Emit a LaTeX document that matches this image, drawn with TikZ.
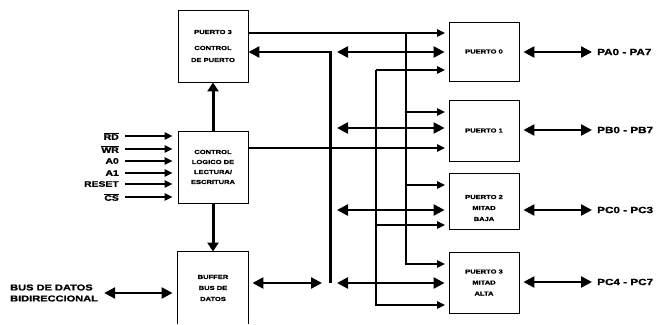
\documentclass[tikz,border=0pt]{standalone}
\usepackage{fontspec}
\setmainfont{Liberation Sans}[FakeStretch=1.3, BoldFeatures={FakeBold=1.2}]
\usetikzlibrary{arrows.meta}
\begin{document}
\begin{tikzpicture}[x=1pt,y=-1pt,
 box/.style={draw, line width=0.9pt, minimum width=70pt, align=center, inner sep=0pt, font=\bfseries\fontsize{5.8}{11}\selectfont},
 sig/.style={line width=1.2pt, -{Triangle[length=8pt,width=7.5pt]}, shorten >=3.5pt},
 wire/.style={line width=1.2pt},
 dbl/.style={line width=2.4pt, {Triangle[length=11pt,width=11pt]}-{Triangle[length=11pt,width=11pt]}},
 busline/.style={line width=3pt},
 busarrow/.style={line width=3pt, -{Triangle[length=9pt,width=11pt]}},
 lbl/.style={font=\bfseries\fontsize{9}{11}\selectfont, inner sep=0pt},
 inlbl/.style={font=\bfseries\fontsize{8}{9}\selectfont, inner sep=0pt, anchor=east}
]
\useasboundingbox (0,0) rectangle (656,324);

% left column boxes
\node[box, minimum height=72pt, font=\bfseries\fontsize{5.8}{12}\selectfont] (p3c) at (213,46) {PUERTO 3\\[4pt]CONTROL\\DE PUERTO};
\node[box, minimum height=72pt, font=\bfseries\fontsize{5.8}{10}\selectfont] (cl) at (213,167) {CONTROL\\LOGICO DE\\LECTURA/\\ESCRITURA};
\node[box, draw=none, minimum height=72pt] (buf) at (213,288) {BUFFER\\BUS DE\\DATOS};
\draw[line width=0.9pt] (buf.south west) -- (buf.north west) -- (buf.north east) -- (buf.south east);

% right column boxes
\node[box, minimum height=59pt] (p0) at (484,51.5) {PUERTO 0};
\node[box, minimum height=61pt] (p1) at (484,130.5) {PUERTO 1};
\node[box, minimum height=56pt, label={[yshift=-7pt, align=center, font=\bfseries\fontsize{5.8}{11}\selectfont]center:{PUERTO 2\\MITAD\\BAJA}}] (p2) at (484,201) {};
\node[box, minimum height=61pt] (p3a) at (484,282.5) {PUERTO 3\\MITAD\\ALTA};

% port labels
\node[lbl, anchor=west] (lPA) at (597,52) {PA0 - PA7};
\node[lbl, anchor=west] (lPB) at (597,130) {PB0 - PB7};
\node[lbl, anchor=west] (lPC0) at (597,210) {PC0 - PC3};
\node[lbl, anchor=west] (lPC4) at (597,282) {PC4 - PC7};
\foreach \p/\l in {p0/lPA,p1/lPB,p2/lPC0,p3a/lPC4}
  \draw[dbl, shorten <=4pt, shorten >=5pt] (\p.east |- \l.west) -- (\l.west);

% input labels
\node[inlbl] (iRD) at (119,136) {$\overline{\mbox{RD}}$};
\node[inlbl] (iWR) at (119,149) {$\overline{\mbox{WR}}$};
\node[inlbl] (iA0) at (119,161) {A0};
\node[inlbl] (iA1) at (119,173) {A1};
\node[inlbl] (iRS) at (119,184) {RESET};
\node[inlbl] (iCS) at (119,197) {$\overline{\mbox{CS}}$};
\foreach \n in {iRD,iWR,iA0,iA1,iRS,iCS}
  \draw[sig, shorten >=5pt] ([xshift=6pt]\n.east) -- (cl.west |- \n.east);

% data bus label
\node[lbl, anchor=west, align=left, font=\bfseries\fontsize{8.5}{11}\selectfont] (lbus) at (10,293) {BUS DE DATOS\\BIDIRECCIONAL};
\draw[dbl, shorten <=6pt, shorten >=5pt] (lbus.east) -- (buf.west |- lbus.east);

% vertical control arrows
\draw[busarrow] (cl.north) -- (p3c.south);
\draw[busarrow] (cl.south) -- (buf.north);

% internal bus
\coordinate (bT) at (330,52);
\coordinate (bB) at (330,283);
\coordinate (b1) at (330,128);
\coordinate (b2) at (330,210);
\draw[busline] (bB) -- ([yshift=-1.25pt]bT);
\draw[line width=2.6pt, -{Triangle[length=11pt,width=11pt]}] ([xshift=1.5pt]bT) -- (p3c.east |- bT);
\draw[dbl, shorten <=4pt, shorten >=8pt] (buf.east |- bB) -- (bB);
\foreach \c/\p in {bT/p0,b1/p1,b2/p2,bB/p3a}
  \draw[dbl, shorten <=7pt, shorten >=4pt] (\c) -- (\p.west |- \c);

% thin control lines
\coordinate (vA) at (406,33);
\coordinate (vAb) at (406,264);
\coordinate (vA1) at (406,112);
\coordinate (vA2) at (406,185);
\coordinate (vB) at (376,70);
\coordinate (vBb) at (376,305);
\coordinate (vB2) at (376,225);
\coordinate (vC) at (300,148);
\draw[sig] (p3c.east |- vA) -- (p0.west |- vA);
\draw[sig] (vA) -- (vAb) -- (p3a.west |- vAb);
\draw[sig] (vA1) -- (p1.west |- vA1);
\draw[sig] (vA2) -- (p2.west |- vA2);
\draw[sig] (vB) -- (p0.west |- vB);
\draw[sig] (vB) -- (vBb) -- (p3a.west |- vBb);
\draw[sig] (vB2) -- (p2.west |- vB2);
\draw[sig] (cl.east |- vC) -- (p1.west |- vC);
\end{tikzpicture}
\end{document}
